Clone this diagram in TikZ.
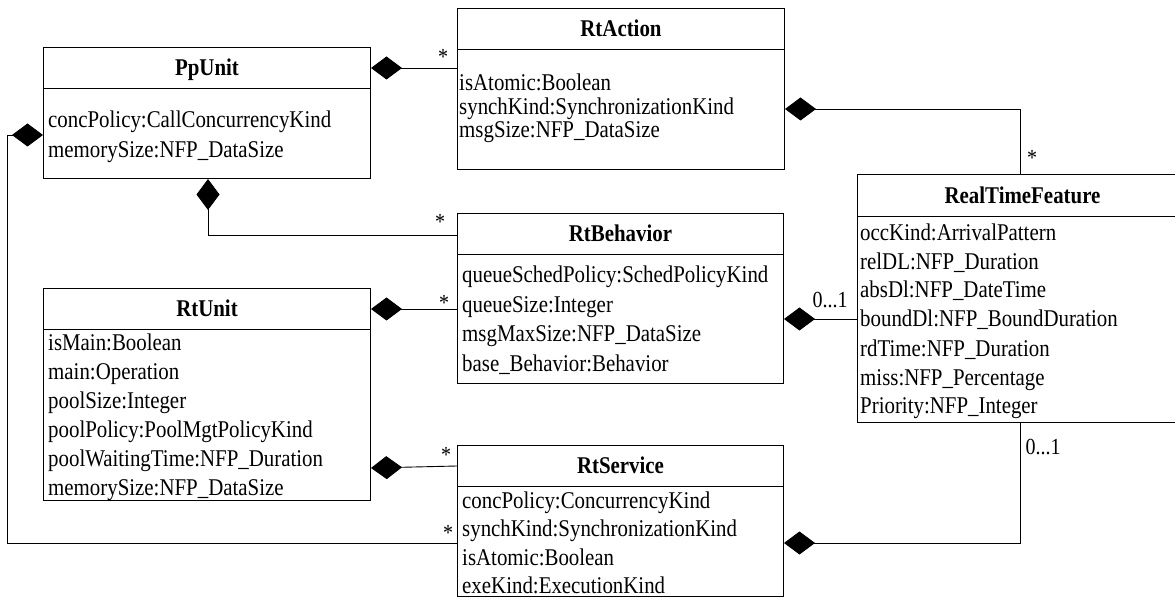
\documentclass[tikz,border=0pt]{standalone}
\usepackage{fontspec}
\setmainfont{Liberation Serif}[FakeStretch=0.87]
\usetikzlibrary{arrows.meta,calc}

% class box: name, x, y, width, height, header height, title
\newcommand\umlbox[7]{%
  \node[classbox, minimum width=#4pt, minimum height=#5pt] (#1) at (#2,#3) {};
  \draw[divider] ([yshift=-#6pt]#1.north west) -- ([yshift=-#6pt]#1.north east);
  \node[classtitle] (#1-title) at ($(#1.north)+(0,#6/2+8)$) {#7};
}

\begin{document}
\begin{tikzpicture}[x=1pt,y=-1pt,
  classbox/.style={draw, line width=1pt, inner sep=0pt, anchor=north west},
  divider/.style={line width=1pt},
  classtitle/.style={font=\fontsize{24}{28}\selectfont\bfseries, inner sep=0pt, anchor=base},
  attr/.style={font=\fontsize{24}{28}\selectfont, inner sep=0pt, anchor=base west},
  mult/.style={font=\fontsize{23}{27}\selectfont, inner sep=0pt},
  comp/.style={line width=0.9pt, {Diamond[length=31pt,width=23pt]}-},
]
\useasboundingbox (0,0) rectangle (1175,601);

% classes
\umlbox{ppunit}{43}{47}{327}{131}{42}{PpUnit}
\umlbox{rtaction}{457}{8}{327}{161}{42}{RtAction}
\umlbox{rtbeh}{457}{213}{326}{170}{42}{RtBehavior}
\umlbox{rtunit}{43}{288}{327}{212}{42}{RtUnit}
\umlbox{rtserv}{457}{445}{326}{151}{41}{RtService}
\umlbox{rtf}{857}{174}{330}{248}{43}{RealTimeFeature}

% attributes
\foreach \yy/\txt [count=\i] in {128/{concPolicy:CallConcurrencyKind},
    158/{memorySize:NFP\_DataSize}}
  \node[attr] (ppunit-a\i) at (48,\yy) {\txt};
\foreach \yy/\txt [count=\i] in {91/{isAtomic:Boolean},
    115/{synchKind:SynchronizationKind}, 138/{msgSize:NFP\_DataSize}}
  \node[attr] (rtaction-a\i) at (459,\yy) {\txt};
\foreach \yy/\txt [count=\i] in {283/{queueSchedPolicy:SchedPolicyKind},
    313/{queueSize:Integer}, 342/{msgMaxSize:NFP\_DataSize},
    371/{base\_Behavior:Behavior}}
  \node[attr] (rtbeh-a\i) at (462,\yy) {\txt};
\foreach \yy/\txt [count=\i] in {351/{isMain:Boolean}, 380/{main:Operation},
    408/{poolSize:Integer}, 437/{poolPolicy:PoolMgtPolicyKind},
    466/{poolWaitingTime:NFP\_Duration}, 495/{memorySize:NFP\_DataSize}}
  \node[attr] (rtunit-a\i) at (48,\yy) {\txt};
\foreach \yy/\txt [count=\i] in {508/{concPolicy:ConcurrencyKind},
    536/{synchKind:SynchronizationKind}, 565/{isAtomic:Boolean},
    593/{exeKind:ExecutionKind}}
  \node[attr] (rtserv-a\i) at (462,\yy) {\txt};
\foreach \yy/\txt [count=\i] in {241/{occKind:ArrivalPattern},
    270/{relDL:NFP\_Duration}, 298/{absDl:NFP\_DateTime},
    327/{boundDl:NFP\_BoundDuration}, 356/{rdTime:NFP\_Duration},
    385/{miss:NFP\_Percentage}, 413/{Priority:NFP\_Integer}}
  \node[attr] (rtf-a\i) at (860,\yy) {\txt};

% composition connectors
\coordinate (c1) at ([yshift=-21pt]ppunit.north east);
\draw[comp] (c1) -- (c1 -| rtaction.west);

\coordinate (c2) at ([xshift=165pt]ppunit.south west);
\coordinate (c2b) at ([yshift=-22pt]rtbeh.north west);
\draw[comp] (c2) |- (c2b);

\coordinate (c3) at ([yshift=-88pt]ppunit.north west);
\coordinate (c3b) at ([yshift=-98pt]rtserv.north west);
\draw[comp] (c3) -- ++(-36,0) |- (c3b);

\coordinate (c4) at ([yshift=-101pt]rtaction.north east);
\coordinate (c4b) at ([xshift=163pt]rtf.north west);
\draw[comp] (c4) -| (c4b);

\coordinate (c5) at ([yshift=-21pt]rtunit.north east);
\draw[comp] (c5) -- (c5 -| rtbeh.west);

\coordinate (c6) at ([yshift=-180pt]rtunit.north east);
\coordinate (c6b) at ([yshift=-21pt]rtserv.north west);
\draw[comp] (c6) -- (c6b);

\coordinate (c7) at ([yshift=-106pt]rtbeh.north east);
\draw[comp] (c7) -- (c7 -| rtf.west);

\coordinate (c8) at ([yshift=-98pt]rtserv.north east);
\coordinate (c8b) at ([xshift=163pt]rtf.south west);
\draw[comp] (c8) -| (c8b);

% multiplicities
\node[mult] (m1) at (443,57) {*};
\node[mult] (m2) at (440,222) {*};
\node[mult] (m3) at (444,303) {*};
\node[mult] (m4) at (446,455) {*};
\node[mult] (m5) at (448,533) {*};
\node[mult] (m6) at (1032,158) {*};
\node[mult] (m7) at (830,300) {0...1};
\node[mult] (m8) at (1043,447) {0...1};
\end{tikzpicture}
\end{document}
